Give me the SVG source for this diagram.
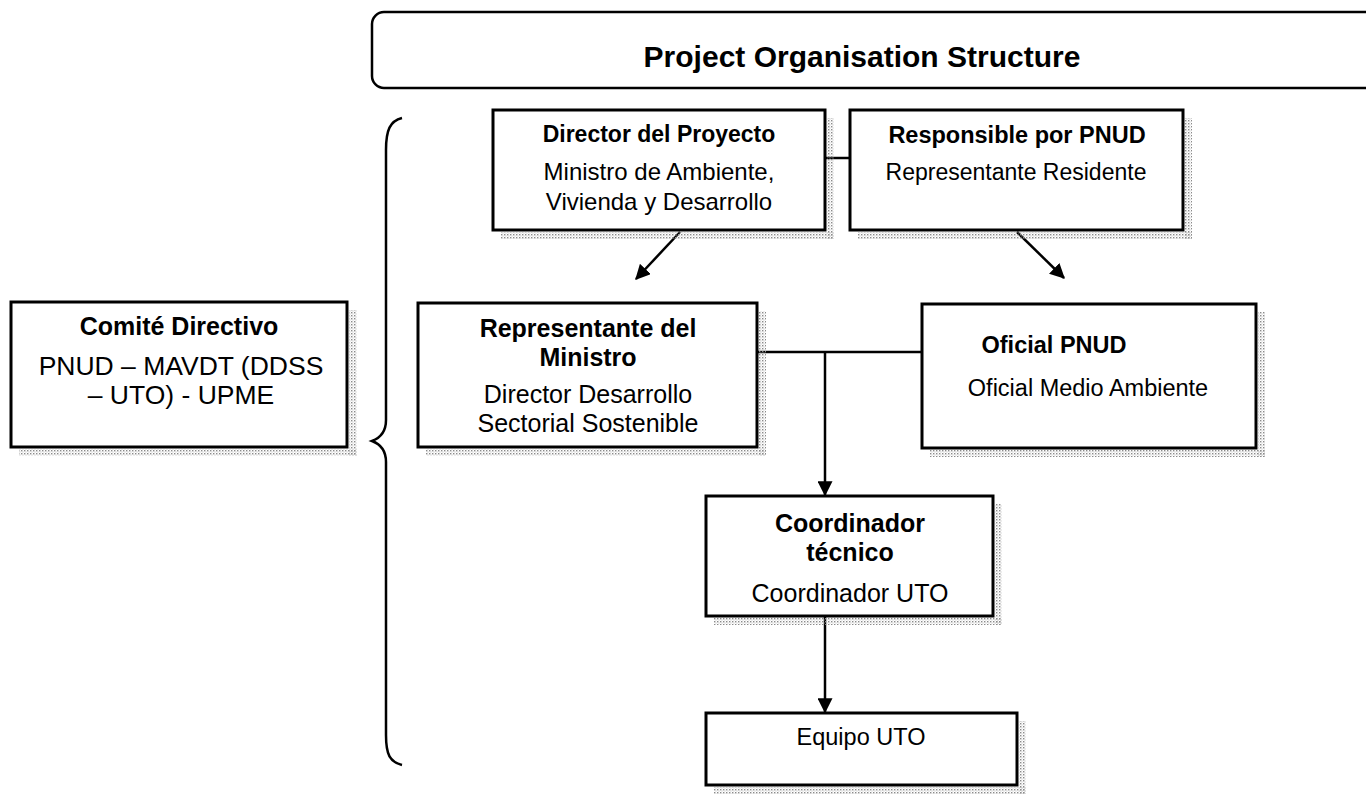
<svg xmlns="http://www.w3.org/2000/svg" width="1366" height="798" viewBox="0 0 1366 798">
<defs>
<pattern id="dots" width="3" height="3" patternUnits="userSpaceOnUse">
<rect x="0" y="0" width="1.4" height="1.4" fill="#8a8a8a"/>
<rect x="1.5" y="1.5" width="1" height="1" fill="#b8b8b8"/>
</pattern>
<marker id="arr" viewBox="0 0 12 12" refX="11" refY="6" markerWidth="6" markerHeight="6" markerUnits="strokeWidth" orient="auto">
<path d="M0,0 L12,6 L0,12 z" fill="#000"/>
</marker>
<style>
.box{fill:#fff;stroke:#000;stroke-width:3}
.sh{fill:url(#dots)}
.h{font-family:"Liberation Sans",Arial,sans-serif;font-weight:bold;text-anchor:middle;fill:#000}
.t{font-family:"Liberation Sans",Arial,sans-serif;text-anchor:middle;fill:#000}
.ln{fill:none;stroke:#000;stroke-width:2.5}
</style>
</defs>
<rect width="1366" height="798" fill="#fff"/>

<g id="title">
<rect x="372" y="12" width="1020" height="76" rx="12" fill="#fff" stroke="#000" stroke-width="2.5"/>
<text class="h" x="862" y="67" font-size="30">Project Organisation Structure</text>
</g>

<g id="brace">
<path class="ln" d="M402,118 C390,121 386,130 386,150 L386,420 C386,432 380,438 372,441 C380,444 386,450 386,462 L386,735 C386,755 390,762 402,765"/>
</g>

<g id="connectors">
<line class="ln" x1="825" y1="158" x2="850" y2="158"/>
<line class="ln" x1="680" y1="232" x2="636" y2="279" marker-end="url(#arr)"/>
<line class="ln" x1="1017" y1="232" x2="1064" y2="278" marker-end="url(#arr)"/>
<line class="ln" x1="757" y1="352" x2="922" y2="352"/>
<line class="ln" x1="825" y1="352" x2="825" y2="495" marker-end="url(#arr)"/>
<line class="ln" x1="825" y1="617" x2="825" y2="712" marker-end="url(#arr)"/>
</g>

<g id="comite">
<rect class="sh" x="349" y="310" width="8" height="146"/>
<rect class="sh" x="19" y="449" width="338" height="7"/>
<rect class="box" x="11" y="302" width="336" height="145"/>
<text class="h" x="179" y="335" font-size="25">Comité Directivo</text>
<text class="t" x="181" y="375" font-size="26.5">PNUD – MAVDT (DDSS</text>
<text class="t" x="181" y="404" font-size="26.5">– UTO) - UPME</text>
</g>

<g id="director">
<rect class="sh" x="827" y="118" width="7" height="121"/>
<rect class="sh" x="501" y="232" width="333" height="7"/>
<rect class="box" x="493" y="110" width="332" height="120"/>
<text class="h" x="659" y="142" font-size="23">Director del Proyecto</text>
<text class="t" x="659" y="180" font-size="24">Ministro de Ambiente,</text>
<text class="t" x="659" y="210" font-size="24">Vivienda y Desarrollo</text>
</g>

<g id="responsible">
<rect class="sh" x="1185" y="118" width="7" height="121"/>
<rect class="sh" x="858" y="232" width="334" height="7"/>
<rect class="box" x="850" y="110" width="333" height="120"/>
<text class="h" x="1017" y="143" font-size="23.5">Responsible por PNUD</text>
<text class="t" x="1016" y="180" font-size="23">Representante Residente</text>
</g>

<g id="representante">
<rect class="sh" x="759" y="311" width="7" height="145"/>
<rect class="sh" x="426" y="449" width="340" height="7"/>
<rect class="box" x="418" y="303" width="339" height="144"/>
<text class="h" x="588" y="337" font-size="25">Representante del</text>
<text class="h" x="588" y="366" font-size="25">Ministro</text>
<text class="t" x="588" y="403" font-size="25">Director Desarrollo</text>
<text class="t" x="588" y="432" font-size="25">Sectorial Sostenible</text>
</g>

<g id="oficial">
<rect class="sh" x="1258" y="312" width="7" height="145"/>
<rect class="sh" x="930" y="450" width="335" height="7"/>
<rect class="box" x="922" y="304" width="334" height="144"/>
<text class="h" x="1054" y="353" font-size="23.5">Oficial PNUD</text>
<text class="t" x="1088" y="396" font-size="23.5">Oficial Medio Ambiente</text>
</g>

<g id="coordinador">
<rect class="sh" x="995" y="504" width="7" height="121"/>
<rect class="sh" x="714" y="618" width="288" height="7"/>
<rect class="box" x="706" y="496" width="287" height="120"/>
<text class="h" x="850" y="532" font-size="25">Coordinador</text>
<text class="h" x="850" y="561" font-size="25">técnico</text>
<text class="t" x="850" y="602" font-size="25">Coordinador UTO</text>
</g>

<g id="equipo">
<rect class="sh" x="1019" y="721" width="7" height="73"/>
<rect class="sh" x="714" y="787" width="312" height="7"/>
<rect class="box" x="706" y="713" width="311" height="72"/>
<text class="t" x="861" y="745" font-size="23.5">Equipo UTO</text>
</g>
</svg>
